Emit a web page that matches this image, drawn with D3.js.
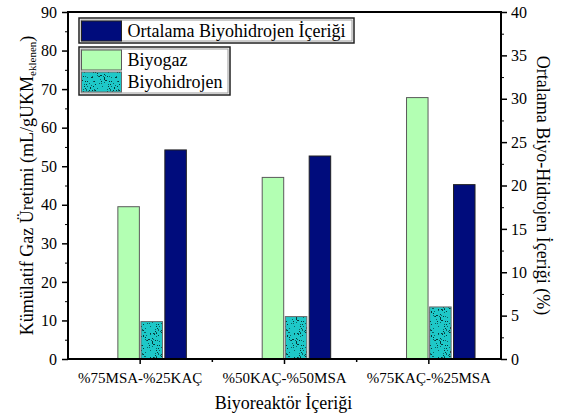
<!DOCTYPE html>
<html>
<head>
<meta charset="utf-8">
<script src="https://cdn.jsdelivr.net/npm/d3@7"></script>
<style>
  html, body { margin: 0; padding: 0; background: #fff; }
</style>
</head>
<body>
<svg id="chart" width="562" height="420" style="font-family: 'Liberation Serif', 'Times New Roman', serif"></svg>
<script>
// Reactor mixtures and measured values
const categories = ["%75MSA-%25KAÇ", "%50KAÇ-%50MSA", "%75KAÇ-%25MSA"];
const biyogaz = [39.5, 47.1, 67.8];          // mL/gUKM (left axis)
const biyohidrojen = [9.7, 11.0, 13.5];      // mL/gUKM (left axis)
const ortalamaH2 = [24.1, 23.4, 20.1];       // % (right axis)
const leftTicks = [0, 10, 20, 30, 40, 50, 60, 70, 80, 90];
const rightTicks = [0, 5, 10, 15, 20, 25, 30, 35, 40];

const FONT = "'Liberation Serif', 'Times New Roman', serif";
const svg = d3.select("#chart");
const m = { left: 68, right: 501, top: 12, bottom: 359 };

const x = d3.scaleBand().domain(categories).range([m.left, m.right]).padding(0);
const yL = d3.scaleLinear().domain([0, 90]).range([m.bottom, m.top]);
const yR = d3.scaleLinear().domain([0, 40]).range([m.bottom, m.top]);

const bw = x.bandwidth() * 0.149;
const gap = x.bandwidth() * 0.011;
const center = c => x(c) + x.bandwidth() / 2;

// speckled fill for the hydrogen bars (hash-scattered dark dots)
const defs = svg.append("defs");
const P = 24;
const pat = defs.append("pattern").attr("id", "speckle")
  .attr("patternUnits", "userSpaceOnUse").attr("width", P).attr("height", P);
pat.append("rect").attr("width", P).attr("height", P).attr("fill", "#1ec8c8");
const hash = k => { const v = Math.sin(k * 12.9898 + 78.233) * 43758.5453; return v - Math.floor(v); };
for (let i = 0; i < 70; i++) {
  pat.append("rect")
    .attr("x", Math.floor(hash(i) * P)).attr("y", Math.floor(hash(i + 500) * P))
    .attr("width", 1).attr("height", 1)
    .attr("fill", hash(i + 900) < 0.5 ? "#063838" : "#0d6262");
}

// bars
const gBars = svg.append("g");
gBars.selectAll(".bg").data(categories).join("rect")
  .attr("x", c => center(c) - gap / 2 - bw)
  .attr("y", (c, i) => yL(biyogaz[i]))
  .attr("width", bw)
  .attr("height", (c, i) => yL(0) - yL(biyogaz[i]))
  .attr("fill", "#b3ffb3").attr("stroke", "#5a5a5a").attr("stroke-width", 1);

gBars.selectAll(".bh").data(categories).join("rect")
  .attr("x", c => center(c) + gap / 2)
  .attr("y", (c, i) => yL(biyohidrojen[i]))
  .attr("width", bw)
  .attr("height", (c, i) => yL(0) - yL(biyohidrojen[i]))
  .attr("fill", "url(#speckle)").attr("stroke", "#6a6a6a").attr("stroke-width", 1);

gBars.selectAll(".bo").data(categories).join("rect")
  .attr("x", c => center(c) + gap / 2 + bw + gap * 1.5)
  .attr("y", (c, i) => yR(ortalamaH2[i]))
  .attr("width", bw)
  .attr("height", (c, i) => yR(0) - yR(ortalamaH2[i]))
  .attr("fill", "#000c7c").attr("stroke", "#222").attr("stroke-width", 1);

// axes
const axL = svg.append("g").attr("transform", `translate(${m.left},0)`)
  .call(d3.axisLeft(yL).tickValues(leftTicks).tickSize(6).tickPadding(5));
svg.append("g").attr("transform", `translate(${m.left},0)`)
  .call(d3.axisLeft(yL).tickValues(leftTicks.slice(0, -1).map(v => v + 5)).tickSize(3).tickFormat(""))
  .call(g => g.select(".domain").remove());

const axR = svg.append("g").attr("transform", `translate(${m.right},0)`)
  .call(d3.axisRight(yR).tickValues(rightTicks).tickSize(6).tickPadding(4));
svg.append("g").attr("transform", `translate(${m.right},0)`)
  .call(d3.axisRight(yR).tickValues(rightTicks.slice(0, -1).map(v => v + 2.5)).tickSize(3).tickFormat(""))
  .call(g => g.select(".domain").remove());

const axB = svg.append("g").attr("transform", `translate(0,${m.bottom})`)
  .call(d3.axisBottom(x).tickSize(5).tickPadding(8.5));
svg.append("g").attr("transform", `translate(0,${m.bottom})`)
  .call(g => g.selectAll("line").data(categories.slice(1)).join("line")
    .attr("x1", c => x(c)).attr("x2", c => x(c)).attr("y1", 0).attr("y2", 3)
    .attr("stroke", "#000").attr("stroke-width", 1.5));

[axL, axR, axB].forEach(a => {
  a.attr("font-family", FONT);
  a.selectAll(".domain").remove();
  a.selectAll(".tick line").attr("stroke-width", 1.5).attr("stroke", "#000");
  a.selectAll("text").style("font-family", FONT).style("font-size", "16px").attr("fill", "#000");
});
axB.selectAll("text").style("font-size", "15px");

// frame
svg.append("rect").attr("x", m.left).attr("y", m.top)
  .attr("width", m.right - m.left).attr("height", m.bottom - m.top)
  .attr("fill", "none").attr("stroke", "#000").attr("stroke-width", 2);

// axis titles
svg.append("text").attr("x", (m.left + m.right) / 2 - 1).attr("y", 409)
  .attr("text-anchor", "middle").style("font-family", FONT).style("font-size", "18px")
  .text("Biyoreaktör İçeriği");

const yt = svg.append("text").attr("transform", `translate(33,${(m.top + m.bottom) / 2}) rotate(-90)`)
  .attr("text-anchor", "middle").style("font-family", FONT).style("font-size", "18px");
yt.append("tspan").text("Kümülatif Gaz Üretimi (mL/gUKM");
yt.append("tspan").attr("baseline-shift", "-28%").style("font-size", "11px").text("eklenen");
yt.append("tspan").text(")");

svg.append("text").attr("transform", `translate(537,${(m.top + m.bottom) / 2}) rotate(90)`)
  .attr("text-anchor", "middle").style("font-family", FONT).style("font-size", "18px")
  .text("Ortalama Biyo-Hidrojen İçeriği (%)");

// legends
function legendBox(x0, y0, w, h) {
  svg.append("rect").attr("x", x0).attr("y", y0).attr("width", w).attr("height", h)
    .attr("fill", "#fff").attr("stroke", "#222").attr("stroke-width", 1.5);
  svg.append("rect").attr("x", x0 + 2).attr("y", y0 + 2).attr("width", w - 4).attr("height", h - 4)
    .attr("fill", "none").attr("stroke", "#9a9a9a").attr("stroke-width", 1);
}
function legendItem(x0, y0, fill, stroke, label) {
  svg.append("rect").attr("x", x0).attr("y", y0).attr("width", 40).attr("height", 20)
    .attr("fill", fill).attr("stroke", stroke).attr("stroke-width", 1);
  svg.append("text").attr("x", x0 + 46).attr("y", y0 + 16)
    .style("font-family", FONT).style("font-size", "18px").text(label);
}
legendBox(79, 18, 275, 25);
legendItem(81.5, 21, "#000c7c", "#222", "Ortalama Biyohidrojen İçeriği");
legendBox(79, 47, 151, 48);
legendItem(81.5, 50, "#b3ffb3", "#5a5a5a", "Biyogaz");
legendItem(81.5, 72, "url(#speckle)", "#6a6a6a", "Biyohidrojen");
</script>
</body>
</html>
